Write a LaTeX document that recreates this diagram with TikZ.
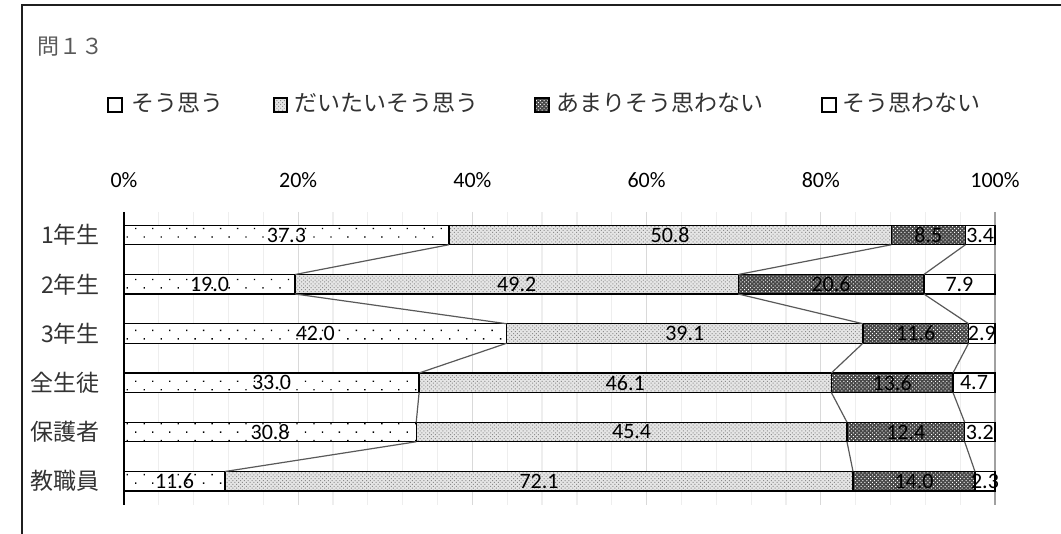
\documentclass[tikz,border=0pt]{standalone}
\usepackage{fontspec}
\setmainfont{Carlito}
\newfontfamily\jpf{Noto Sans CJK JP}
\usetikzlibrary{patterns,patterns.meta}
\definecolor{gridminor}{HTML}{EEEEEE}
\definecolor{gridmajor}{HTML}{D9D9D9}
\definecolor{gridend}{HTML}{A0A0A0}
\definecolor{serlinecol}{HTML}{595959}
\definecolor{titlegray}{HTML}{595959}
\definecolor{jptext}{HTML}{333333}
\tikzset{
  segbase/.style={draw=black, line width=1.3pt},
  segA/.style={segbase, preaction={fill=white}, pattern={Dots[distance=12pt,angle=45,radius=0.95pt]}, pattern color=black},
  segB/.style={segbase, preaction={fill=black!10}, pattern={Dots[distance=2.7pt,angle=45,radius=0.7pt]}, pattern color=black!45},
  segC/.style={segbase, preaction={fill=black!72}, pattern={Dots[distance=2.7pt,angle=45,radius=0.7pt]}, pattern color=white},
  segD/.style={segbase, fill=white},
  vallabel/.style={font=\fontsize{22}{26}\selectfont, text=black, inner sep=0pt},
  catlabel/.style={font=\jpf\fontsize{23}{27}\selectfont, text=jptext, anchor=east, inner sep=0pt},
  axlabel/.style={font=\fontsize{22}{26}\selectfont, text=black, inner sep=0pt},
  legtext/.style={font=\jpf\fontsize{23}{27}\selectfont, text=jptext, anchor=west, inner sep=0pt},
  legbox/.style={line width=2pt},
  serline/.style={draw=serlinecol, line width=1.2pt},
}
\newcommand\chartrow[6]{%
  \pgfmathsetmacro\rowyc{235+49.25*(#1-1)}%
  \pgfmathsetmacro\rowyt{\rowyc-9.75}%
  \pgfmathsetmacro\rowyb{\rowyc+9.75}%
  \pgfmathsetmacro\rowsum{#3+#4+#5+#6}%
  \pgfmathsetmacro\cxA{124+871*((#3)/\rowsum)}%
  \pgfmathsetmacro\cxB{124+871*((#3+#4)/\rowsum)}%
  \pgfmathsetmacro\cxC{124+871*((#3+#4+#5)/\rowsum)}%
  \draw[segA] (124,\rowyt) rectangle (\cxA,\rowyb);
  \draw[segB] (\cxA,\rowyt) rectangle (\cxB,\rowyb);
  \draw[segC] (\cxB,\rowyt) rectangle (\cxC,\rowyb);
  \draw[segD] (\cxC,\rowyt) rectangle (995,\rowyb);
  \coordinate (r#1-b1-t) at (\cxA,\rowyt);
  \coordinate (r#1-b1-b) at (\cxA,\rowyb);
  \coordinate (r#1-b2-t) at (\cxB,\rowyt);
  \coordinate (r#1-b2-b) at (\cxB,\rowyb);
  \coordinate (r#1-b3-t) at (\cxC,\rowyt);
  \coordinate (r#1-b3-b) at (\cxC,\rowyb);
  \node[vallabel] (r#1-v1) at ({(124+\cxA)/2},\rowyc) {#3};
  \node[vallabel] (r#1-v2) at ({(\cxA+\cxB)/2},\rowyc) {#4};
  \node[vallabel] (r#1-v3) at ({(\cxB+\cxC)/2},\rowyc) {#5};
  \node[vallabel] (r#1-v4) at ({(\cxC+995)/2},\rowyc) {#6};
  \node[catlabel] (r#1-cat) at (100,\rowyc) {#2};
}
\begin{document}
\begin{tikzpicture}[x=1pt,y=-1pt]
\useasboundingbox (0,0) rectangle (1061,534);
% frame
\draw[line width=2pt, black!88] (1061,5) -- (22,5) -- (22,534);
% title
\node[font=\jpf\fontsize{22}{26}\selectfont, text=titlegray, anchor=west, inner sep=0pt] (title) at (37,47) {問１３};
% legend
\draw[segA, legbox, pattern={Dots[distance=20pt,radius=0.9pt]}] (108,98.5) rectangle (121.5,112);
\node[legtext] (leg1) at (131,103) {そう思う};
\draw[segB, legbox] (273.5,98.5) rectangle (287,112);
\node[legtext] (leg2) at (294,103) {だいたいそう思う};
\draw[segC, legbox] (535,98.5) rectangle (548.5,112);
\node[legtext] (leg3) at (556,103) {あまりそう思わない};
\draw[segD, legbox] (822,98.5) rectangle (835.5,112);
\node[legtext] (leg4) at (842,103) {そう思わない};
% axis labels
\foreach \i in {0,...,5}{
  \pgfmathtruncatemacro\pct{20*\i}
  \node[axlabel] (ax\i) at ({124+174.2*\i},180) {\pct\%};
}
% grid
\foreach \i in {1,...,24}{
  \draw[gridminor, line width=1.2pt] ({124+34.84*\i},212) -- ({124+34.84*\i},505);
}
\foreach \i in {1,...,4}{
  \draw[gridmajor, line width=1.2pt] ({124+174.2*\i},212) -- ({124+174.2*\i},505);
}
\draw[gridend, line width=1.5pt] (995,212) -- (995,505);
% bars
\chartrow{1}{1年生}{37.3}{50.8}{8.5}{3.4}
\chartrow{2}{2年生}{19.0}{49.2}{20.6}{7.9}
\chartrow{3}{3年生}{42.0}{39.1}{11.6}{2.9}
\chartrow{4}{全生徒}{33.0}{46.1}{13.6}{4.7}
\chartrow{5}{保護者}{30.8}{45.4}{12.4}{3.2}
\chartrow{6}{教職員}{11.6}{72.1}{14.0}{2.3}
% series lines
\foreach \r [evaluate=\r as \n using int(\r+1)] in {1,...,5}{
  \foreach \b in {1,2,3}{
    \draw[serline] (r\r-b\b-b) -- (r\n-b\b-t);
  }
}
% axis
\draw[black, line width=1.4pt] (124,212) -- (124,505);
\end{tikzpicture}
\end{document}
